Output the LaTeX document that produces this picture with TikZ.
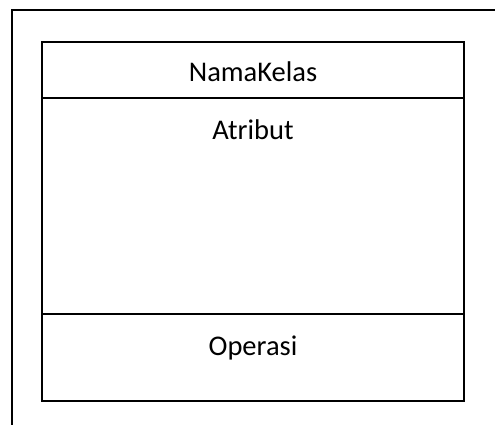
\documentclass[tikz,border=0pt]{standalone}
\usepackage{fontspec}
\setmainfont{Carlito}
\tikzset{
  frameline/.style={line width=1.6pt, black},
  boxline/.style={line width=2pt, black},
  label/.style={font=\fontsize{28.5}{34}\selectfont, inner sep=0pt, anchor=center}
}
\begin{document}
\begin{tikzpicture}[x=1pt, y=-1pt]
  \useasboundingbox (0,0) rectangle (495,425);
  % open outer frame: top edge and left edge only
  \coordinate (ftl) at (12,10);
  \coordinate (ftr) at (495,10);
  \coordinate (fbl) at (12,425);
  \draw[frameline] (ftr) -- (ftl) -- (fbl);
  % class box with three compartments
  \coordinate (btl) at (42,42);
  \coordinate (bbr) at (464,401);
  \draw[boxline] (btl) rectangle (bbr);
  \coordinate (d1l) at (42,98);
  \coordinate (d1r) at (464,98);
  \coordinate (d2l) at (42,314);
  \coordinate (d2r) at (464,314);
  \draw[boxline] (d1l) -- (d1r);
  \draw[boxline] (d2l) -- (d2r);
  \node[label] (nama) at (253,72) {NamaKelas};
  \node[label] (atr) at (253,130) {Atribut};
  \node[label] (ops) at (253,348) {Operasi};
\end{tikzpicture}
\end{document}
